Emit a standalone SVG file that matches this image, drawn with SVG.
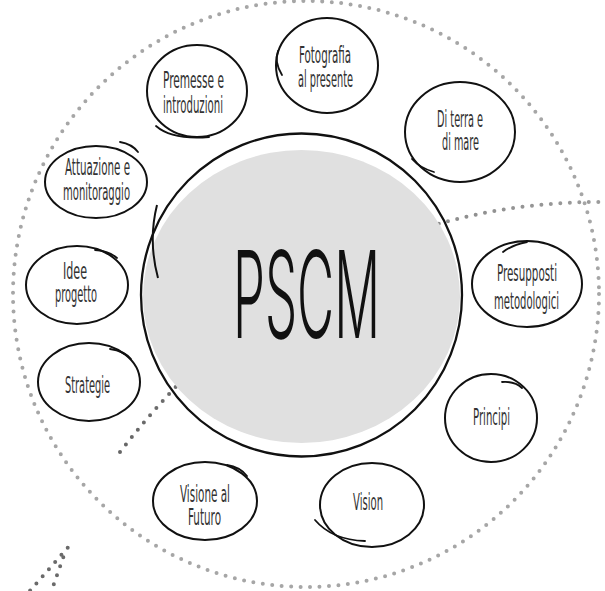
<svg xmlns="http://www.w3.org/2000/svg" width="605" height="591" viewBox="0 0 605 591">
<style>
.dots{fill:none;stroke-width:4;stroke-linecap:round;stroke-dasharray:0 9.5}
.node ellipse{fill:#fff;stroke:#111;stroke-width:2}
.node path{fill:none;stroke:#111;stroke-width:1.8;stroke-linecap:round}
.lbl{font-family:'DejaVu Sans Condensed','Liberation Sans Narrow','Liberation Sans',sans-serif;font-size:23px;fill:#333;text-anchor:middle}
.title{font-family:Inter,Roboto,'DejaVu Sans Condensed',sans-serif;font-weight:320;font-size:121px;fill:#111;text-anchor:middle}
</style>
<defs>
<linearGradient id="curveGrad" gradientUnits="userSpaceOnUse" x1="120" y1="452" x2="605" y2="202">
<stop offset="0" stop-color="#666"/>
<stop offset="1" stop-color="#9c9c9c"/>
</linearGradient>
</defs>
<rect width="605" height="591" fill="#fff"/>
<g id="connectors">
<circle class="dots" cx="306" cy="294" r="293" stroke="#a6a6a6"/>
<path class="dots" d="M120,452 Q314,200 605,202" stroke="url(#curveGrad)"/>
<path class="dots" d="M67.7,547.7 L28,593" stroke="#6a6a6a"/>
<path class="dots" d="M63.3,557.3 L50,595" stroke="#6a6a6a"/>
</g>
<g id="center">
<ellipse cx="301.5" cy="296.5" rx="158.5" ry="146.5" fill="#e0e0e0"/>
<ellipse cx="301.5" cy="295" rx="160.5" ry="161.5" fill="none" stroke="#111" stroke-width="2.3"/>
<path d="M157,205 Q148,241 158,278" fill="none" stroke="#111" stroke-width="2"/>
<text class="title" transform="translate(306.5,338) scale(0.5,1)" textLength="294" lengthAdjust="spacingAndGlyphs">PSCM</text>
</g>
<g id="node-premesse" class="node">
<ellipse cx="197" cy="91" rx="50" ry="46"/>
<path d="M156,126 Q172,140 209,137"/>
<text class="lbl" transform="translate(193.5,88) scale(0.5,1)" textLength="122" lengthAdjust="spacingAndGlyphs">Premesse e</text>
<text class="lbl" transform="translate(193,113) scale(0.5,1)" textLength="120" lengthAdjust="spacingAndGlyphs">introduzioni</text>
</g>
<g id="node-fotografia" class="node">
<ellipse cx="327" cy="65.5" rx="51" ry="47.5"/>
<path d="M278,51 Q274,62 282,75"/>
<text class="lbl" transform="translate(325,63) scale(0.5,1)" textLength="104" lengthAdjust="spacingAndGlyphs">Fotografia</text>
<text class="lbl" transform="translate(325.5,87) scale(0.5,1)" textLength="110" lengthAdjust="spacingAndGlyphs">al presente</text>
</g>
<g id="node-terra" class="node">
<ellipse cx="460" cy="132" rx="55" ry="50"/>
<path d="M412,159 Q420,168 434,172"/>
<text class="lbl" transform="translate(460,127) scale(0.5,1)" textLength="92" lengthAdjust="spacingAndGlyphs">Di terra e</text>
<text class="lbl" transform="translate(460.5,150) scale(0.5,1)" textLength="74" lengthAdjust="spacingAndGlyphs">di mare</text>
</g>
<g id="node-presupposti" class="node">
<ellipse cx="527" cy="284" rx="55" ry="43"/>
<path d="M503,252 Q512,245 527,242"/>
<text class="lbl" transform="translate(527,281) scale(0.5,1)" textLength="120" lengthAdjust="spacingAndGlyphs">Presupposti</text>
<text class="lbl" transform="translate(526.5,309) scale(0.5,1)" textLength="130" lengthAdjust="spacingAndGlyphs">metodologici</text>
</g>
<g id="node-principi" class="node">
<ellipse cx="491" cy="418" rx="46" ry="44"/>
<path d="M502,382 Q515,381 522,388"/>
<text class="lbl" transform="translate(491.5,425) scale(0.5,1)" textLength="74" lengthAdjust="spacingAndGlyphs">Principi</text>
</g>
<g id="node-vision" class="node">
<ellipse cx="372" cy="505" rx="52" ry="42"/>
<path d="M315,520 Q332,540 365,541"/>
<text class="lbl" transform="translate(368,510) scale(0.5,1)" textLength="60" lengthAdjust="spacingAndGlyphs">Vision</text>
</g>
<g id="node-visione" class="node">
<ellipse cx="205" cy="501" rx="52" ry="39"/>
<path d="M227,465 Q240,467 247,476"/>
<text class="lbl" transform="translate(205,502) scale(0.5,1)" textLength="100" lengthAdjust="spacingAndGlyphs">Visione al</text>
<text class="lbl" transform="translate(204.5,525) scale(0.5,1)" textLength="66" lengthAdjust="spacingAndGlyphs">Futuro</text>
</g>
<g id="node-strategie" class="node">
<ellipse cx="89" cy="382" rx="51" ry="39"/>
<path d="M110,349 Q124,351 131,359"/>
<text class="lbl" transform="translate(87.5,393) scale(0.5,1)" textLength="90" lengthAdjust="spacingAndGlyphs">Strategie</text>
</g>
<g id="node-idee" class="node">
<ellipse cx="77" cy="285" rx="51" ry="39"/>
<path d="M95,250 Q109,251 117,258"/>
<text class="lbl" transform="translate(75,279) scale(0.5,1)" textLength="48" lengthAdjust="spacingAndGlyphs">Idee</text>
<text class="lbl" transform="translate(76,302) scale(0.5,1)" textLength="84" lengthAdjust="spacingAndGlyphs">progetto</text>
</g>
<g id="node-attuazione" class="node">
<ellipse cx="96" cy="182" rx="51" ry="36"/>
<path d="M120,142 Q132,144 138,152"/>
<text class="lbl" transform="translate(97.5,175) scale(0.5,1)" textLength="130" lengthAdjust="spacingAndGlyphs">Attuazione e</text>
<text class="lbl" transform="translate(96.5,200) scale(0.5,1)" textLength="134" lengthAdjust="spacingAndGlyphs">monitoraggio</text>
</g>
</svg>
